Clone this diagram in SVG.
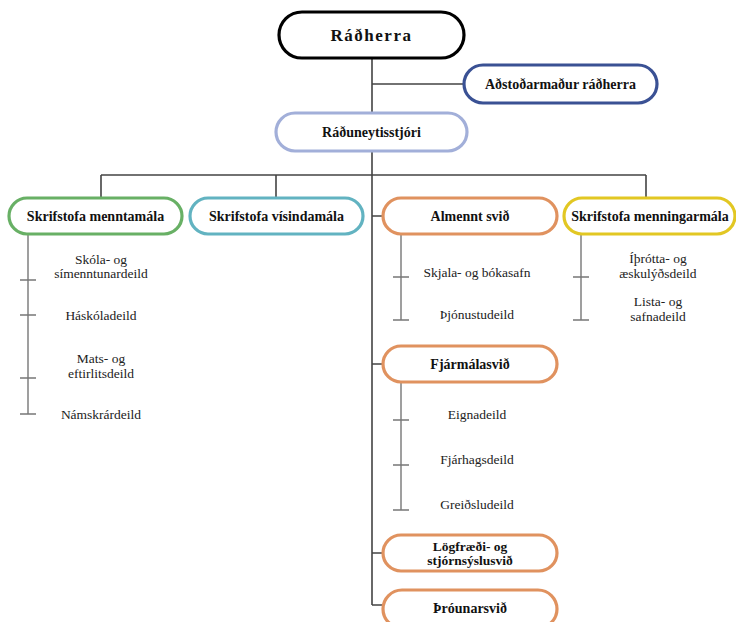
<svg xmlns="http://www.w3.org/2000/svg" width="736" height="622" viewBox="0 0 736 622">
<style>
.box{fill:#fff;stroke-width:3.2}
.t{font-family:"Liberation Serif","Times New Roman",serif;font-weight:bold;font-size:14px;fill:#111;text-anchor:middle;dominant-baseline:central}
.s{font-family:"Liberation Serif","Times New Roman",serif;font-size:13.5px;fill:#222;text-anchor:middle;dominant-baseline:central}
.main{stroke:#444;stroke-width:1.6;fill:none}
.sub{stroke:#777;stroke-width:1.4;fill:none}
</style>
<rect width="736" height="622" fill="#fff"/>
<g id="connectors">
<path class="main" d="M372 58V605M372 84H464M101 175H646M101 175V198M276 175V198M646 175V198M372 216H383M372 364H383M372 553H383M372 605H383"/>
<path class="sub" d="M28 234V414M20 280H36M20 315H36M20 378H36M20 414H36"/>
<path class="sub" d="M401 234V320M393 277H409M393 320H409"/>
<path class="sub" d="M581 234V320M573 277H589M573 320H589"/>
<path class="sub" d="M401 382V510M393 420H409M393 465H409M393 510H409"/>
</g>
<g id="radherra"><rect class="box" x="279" y="12" width="185" height="46" rx="23" stroke="#000" stroke-width="3.6"/><text class="t" x="371.5" y="35" style="font-size:17px;letter-spacing:1.5px">Ráðherra</text></g>
<g id="adstodarmadur"><rect class="box" x="464" y="65" width="193" height="38" rx="19" stroke="#3a5194"/><text class="t" x="560.5" y="84">Aðstoðarmaður ráðherra</text></g>
<g id="raduneytisstjori"><rect class="box" x="276" y="113" width="191" height="38" rx="19" stroke="#a2afd9"/><text class="t" x="371.5" y="132">Ráðuneytisstjóri</text></g>
<g id="menntamala"><rect class="box" x="9" y="198" width="173" height="36" rx="18" stroke="#68b065"/><text class="t" x="95.5" y="216">Skrifstofa menntamála</text>
<text class="s" x="101" y="259">Skóla- og</text><text class="s" x="101" y="273">símenntunardeild</text>
<text class="s" x="101" y="315">Háskóladeild</text>
<text class="s" x="101" y="358">Mats- og</text><text class="s" x="101" y="373">eftirlitsdeild</text>
<text class="s" x="101" y="414">Námskrárdeild</text></g>
<g id="visindamala"><rect class="box" x="190" y="198" width="173" height="36" rx="18" stroke="#62b3c1"/><text class="t" x="276.5" y="216">Skrifstofa vísindamála</text></g>
<g id="almennt"><rect class="box" x="383" y="198" width="174" height="36" rx="18" stroke="#e0925f"/><text class="t" x="470" y="216">Almennt svið</text>
<text class="s" x="477" y="272">Skjala- og bókasafn</text>
<text class="s" x="477" y="314">Þjónustudeild</text></g>
<g id="menningarmala"><rect class="box" x="564" y="198" width="171" height="36" rx="18" stroke="#e2c723"/><text class="t" x="650" y="216">Skrifstofa menningarmála</text>
<text class="s" x="658" y="258">Íþrótta- og</text><text class="s" x="658" y="273">æskulýðsdeild</text>
<text class="s" x="658" y="301">Lista- og</text><text class="s" x="658" y="316">safnadeild</text></g>
<g id="fjarmalasvid"><rect class="box" x="383" y="346" width="174" height="36" rx="18" stroke="#e0925f"/><text class="t" x="470" y="364">Fjármálasvið</text>
<text class="s" x="477" y="414">Eignadeild</text>
<text class="s" x="477" y="459">Fjárhagsdeild</text>
<text class="s" x="477" y="504">Greiðsludeild</text></g>
<g id="logfraedi"><rect class="box" x="383" y="535" width="174" height="36" rx="18" stroke="#e0925f"/><text class="t" x="470" y="546" style="font-size:13.5px">Lögfræði- og</text><text class="t" x="470" y="560" style="font-size:13.5px">stjórnsýslusvið</text></g>
<g id="throunarsvid"><rect class="box" x="383" y="590" width="174" height="38" rx="19" stroke="#e0925f"/><text class="t" x="470" y="608">Þróunarsvið</text></g>
</svg>
